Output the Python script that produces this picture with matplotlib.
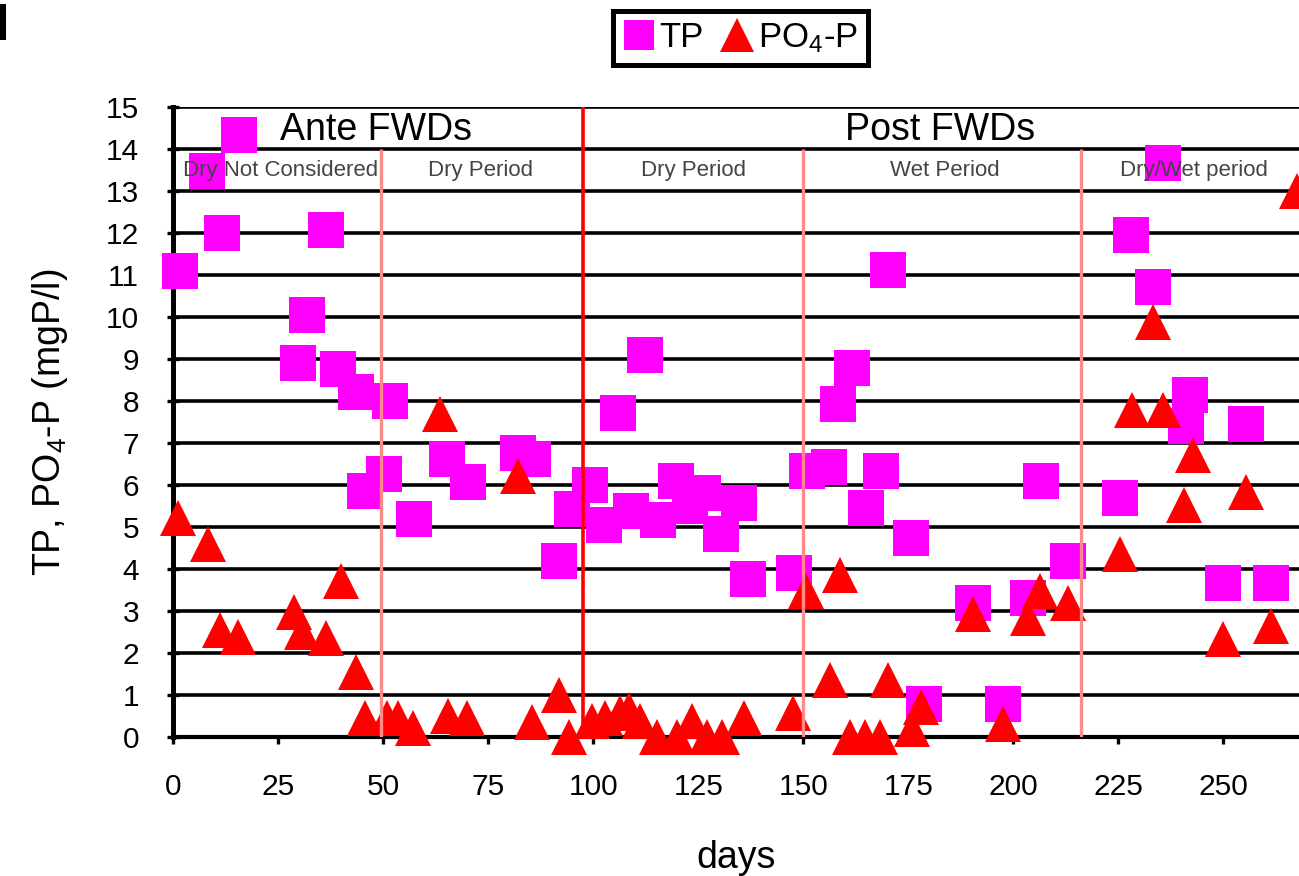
import matplotlib
matplotlib.use('Agg')
import matplotlib.pyplot as plt
from matplotlib.lines import Line2D
from matplotlib.patches import Rectangle

plt.rcParams['font.family'] = ['Liberation Sans', 'DejaVu Sans']
plt.rcParams['mathtext.fontset'] = 'custom'
plt.rcParams['mathtext.rm'] = 'Liberation Sans'
plt.rcParams['mathtext.default'] = 'regular'

# ------------------------------------------------------------
# Data: total phosphorus and orthophosphate (mg P/l) vs days
# ------------------------------------------------------------
tp_days = [1.7, 8.0, 11.7, 15.7, 29.8, 31.9, 36.4, 39.3, 43.6, 45.7,
           50.2, 51.7, 57.4, 65.2, 70.2, 82.1, 85.7, 91.9, 95.0, 99.3,
           102.6, 106.0, 109.0, 112.4, 115.5, 119.8, 123.0, 126.2, 130.5, 134.8,
           136.9, 147.8, 150.9, 156.2, 158.3, 161.7, 165.0, 168.6, 170.2, 175.7,
           178.8, 190.5, 197.6, 203.6, 206.7, 213.0, 225.5, 227.9, 233.3, 235.7,
           241.0, 242.1, 249.8, 255.5, 261.4]
tp_vals = [11.1, 13.47, 12.0, 14.32, 8.9, 10.05, 12.07, 8.75, 8.2, 5.85,
           6.27, 8.0, 5.18, 6.62, 6.08, 6.77, 6.62, 4.19, 5.42, 6.0,
           5.05, 7.71, 5.37, 9.08, 5.16, 6.1, 5.5, 5.8, 4.83, 5.58,
           3.77, 3.9, 6.32, 6.43, 7.93, 8.78, 5.46, 6.32, 11.12, 4.73,
           0.78, 3.2, 0.78, 3.3, 6.1, 4.19, 5.68, 11.95, 10.72, 13.67,
           7.39, 8.14, 3.67, 7.45, 3.67]

po4_days = [1.2, 8.3, 11.2, 15.5, 28.8, 30.7, 36.4, 40.0, 43.5, 45.7,
            50.9, 53.5, 57.0, 63.6, 65.5, 69.9, 82.1, 85.4, 91.9, 94.3,
            99.7, 102.9, 106.4, 108.6, 111.2, 115.2, 120.0, 123.5, 127.0, 130.6,
            135.8, 147.6, 150.7, 156.4, 158.8, 161.2, 164.8, 168.3, 170.2, 176.0,
            178.0, 190.5, 197.6, 203.6, 206.4, 213.1, 225.5, 228.2, 233.3, 235.7,
            240.6, 242.7, 249.8, 255.5, 261.4, 267.6]
po4_vals = [5.2, 4.59, 2.55, 2.37, 2.98, 2.5, 2.35, 3.71, 1.54, 0.44,
            0.44, 0.44, 0.22, 7.69, 0.5, 0.44, 6.22, 0.36, 0.99, 0.0,
            0.39, 0.44, 0.57, 0.65, 0.37, 0.0, 0.0, 0.37, 0.0, 0.0,
            0.44, 0.57, 3.48, 1.36, 3.86, 0.0, 0.0, 0.0, 1.36, 0.19,
            0.72, 2.93, 0.31, 2.84, 3.48, 3.19, 4.36, 7.77, 9.87, 7.77,
            5.52, 6.7, 2.33, 5.84, 2.65, 13.0]

# Period boundaries and header labels
fwd_day = 97.6
sub_bounds = [49.5, 150, 216]
main_labels = ['Ante FWDs', 'Post FWDs']
main_label_x = [48.4, 182.6]
sub_labels = ['Dry Not Considered', 'Dry Period', 'Dry Period', 'Wet Period', 'Dry/Wet period']
sub_label_x = [25.5, 73.3, 124.0, 183.6, 243.0]

magenta = '#FF00FF'
red = '#FF0000'

fig = plt.figure(figsize=(12.99, 8.76), dpi=100)
ax = fig.add_axes([0.1332, 0.1587, 0.8668, 0.7195])

ax.set_xlim(0, 268)
ax.set_ylim(0, 15)

# Markers
ax.plot(tp_days, tp_vals, ls='none', marker='s', ms=26, mew=0,
        color=magenta, clip_on=False, zorder=3)
ax.plot(po4_days, po4_vals, ls='none', marker='^', ms=26, mew=0,
        color=red, clip_on=False, zorder=4)

# Period separators
ax.axvline(fwd_day, color=red, lw=2.6, zorder=5)
ax.vlines(sub_bounds, 0, 14, color='#ff8a8a', lw=2.4, zorder=5)

# Header texts
for lab, x in zip(main_labels, main_label_x):
    ax.text(x, 14.45, lab, ha='center', va='center', fontsize=27, zorder=6)
for lab, x in zip(sub_labels, sub_label_x):
    ax.text(x, 13.48, lab, ha='center', va='center', fontsize=16,
            color='#444444', zorder=6)

# Axes styling
ax.set_yticks(range(16))
ax.set_xticks(range(0, 251, 25))
ax.grid(axis='y', color='black', lw=2.6)
ax.grid(axis='x', visible=False)
ax.set_axisbelow(True)
for s in ['top', 'right']:
    ax.spines[s].set_visible(False)
ax.spines['left'].set_linewidth(3.6)
ax.spines['bottom'].set_linewidth(3.0)
ax.tick_params(axis='y', direction='inout', length=9, width=2.4, pad=20,
               labelsize=21.5)
ax.tick_params(axis='x', direction='out', length=5, width=2.4, pad=21,
               labelsize=21.5)

ax.set_xlabel('days', fontsize=27, labelpad=28)
ax.set_ylabel('TP, PO$_4$-P (mgP/l)', fontsize=27, labelpad=26)

# Legend
handles = [Line2D([], [], ls='none', marker='s', ms=22, mew=0, color=magenta),
           Line2D([], [], ls='none', marker='^', ms=24, mew=0, color=red)]
leg = fig.legend(handles, ['TP', 'PO$_4$-P'], loc='center',
                 bbox_to_anchor=(0.570, 0.9566), ncol=2, fontsize=25,
                 frameon=True, fancybox=False, framealpha=1,
                 handlelength=0.9, handletextpad=0.15, columnspacing=0.5,
                 borderpad=0.3, borderaxespad=0)
leg.get_frame().set_edgecolor('black')
leg.get_frame().set_linewidth(3.6)

# Edge of the panel mark in the top-left corner
fig.patches.append(Rectangle((0, 1 - 40 / 876), 6 / 1299, 36 / 876,
                             transform=fig.transFigure, facecolor='black',
                             edgecolor='none'))

fig.savefig('out.png', dpi=100)
